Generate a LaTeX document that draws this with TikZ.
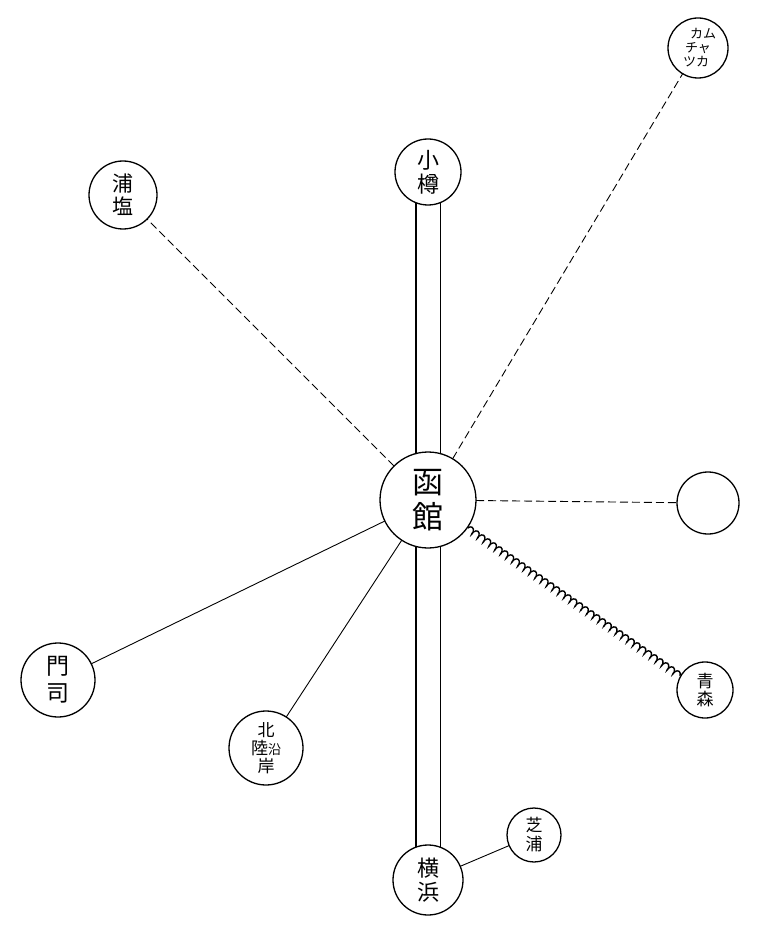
\documentclass[tikz,border=0pt]{standalone}
\usepackage{fontspec}
\newfontfamily\jp{Noto Sans CJK JP}
\usetikzlibrary{decorations.pathmorphing,backgrounds}
\begin{document}
\begin{tikzpicture}[x=1pt,y=-1pt,
  stn/.style={circle,draw,line width=1.3pt,fill=white,inner sep=0pt,minimum size=#1,align=center},
  conn/.style={line width=0.9pt},
  dashline/.style={line width=0.9pt,dash pattern=on 8pt off 4pt},
  rail/.style={line width=1.4pt,double distance=23pt},
  coilline/.style={line width=1.4pt,decorate,decoration={coil,amplitude=3pt,segment length=7pt}}]
\useasboundingbox (0,0) rectangle (761,925);
\node[stn=96pt,font=\jp\fontsize{31}{35}\selectfont] (hakodate) at (428,500) {函\\館};
\node[stn=66pt,font=\jp\fontsize{22}{24}\selectfont] (otaru) at (428,172) {小\\樽};
\node[stn=68pt,font=\jp\fontsize{21}{23}\selectfont] (urajio) at (123,195) {浦\\塩};
\node[stn=60pt,font=\jp\fontsize{13}{14}\selectfont] (kamchatka) at (698,48) {\hspace*{10pt}カム\\チャ\\ツカ\hspace*{4pt}};
\node[stn=62pt] (empty) at (708,503) {};
\node[stn=56pt,font=\jp\fontsize{17}{18}\selectfont] (aomori) at (705,690) {青\\森};
\node[stn=74pt,font=\jp\fontsize{23}{27}\selectfont] (moji) at (58,680) {門\\司};
\node[stn=74pt,font=\jp\fontsize{17}{18}\selectfont] (hokuriku) at (266,748) {北\\陸{\fontsize{13}{13}\selectfont 沿}\\岸};
\node[stn=70pt,font=\jp\fontsize{22}{24}\selectfont] (yokohama) at (428,880) {横\\浜};
\node[stn=54pt,font=\jp\fontsize{17}{19}\selectfont] (shibaura) at (534,835) {芝\\浦};
\begin{scope}[on background layer]
  \draw[rail] (otaru.center) -- (hakodate.center);
  \draw[rail] (hakodate.center) -- (yokohama.center);
  \draw[dashline] (hakodate.center) -- (urajio.center);
  \draw[dashline] (hakodate.center) -- (kamchatka.center);
  \draw[dashline] (hakodate.center) -- (empty.center);
  \draw[conn] (hakodate.center) -- (moji.center);
  \draw[conn] (hakodate.center) -- (hokuriku.center);
  \draw[conn] (yokohama.center) -- (shibaura.center);
\end{scope}
\draw[coilline] (hakodate.-35) -- (aomori.150);
\end{tikzpicture}
\end{document}
